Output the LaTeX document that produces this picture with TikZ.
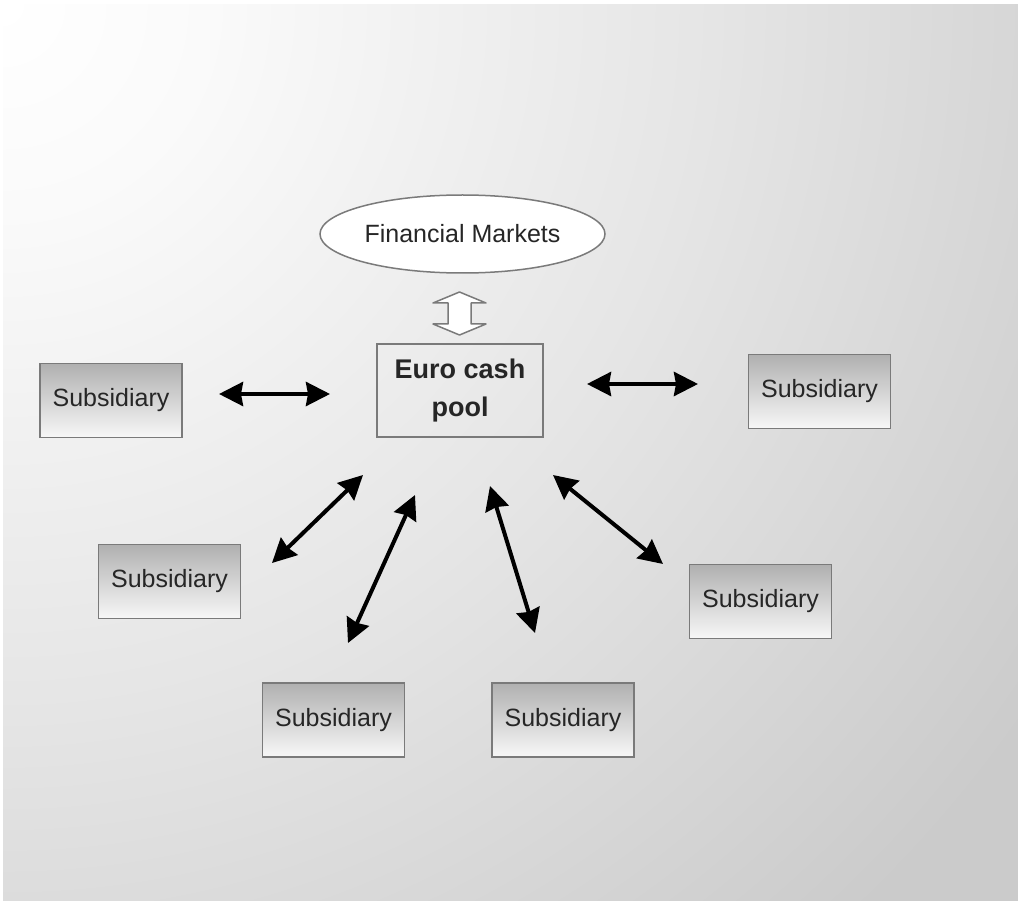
\documentclass[tikz,border=0pt]{standalone}
\usepackage{fontspec}
\setmainfont{Liberation Sans}
\usetikzlibrary{arrows.meta,shapes.geometric}
\definecolor{bgg}{HTML}{CBCBCB}
\definecolor{boxtop}{HTML}{B0B0B0}
\definecolor{edge}{HTML}{7A7A7A}
\definecolor{txt}{HTML}{262626}
\pgfdeclareradialshading{bgrad}{\pgfpoint{0bp}{0bp}}{color(0bp)=(white); color(4.2bp)=(white!98!black); color(14bp)=(white!90!black); color(25bp)=(bgg); color(50bp)=(bgg)}
\begin{document}
\begin{tikzpicture}[x=1pt,y=-1pt,
  sub/.style={draw=edge, line width=1.5pt, top color=boxtop, bottom color=white!97!black,
    minimum width=142pt, minimum height=74pt, inner sep=0pt,
    font=\fontsize{25}{30}\selectfont, text=txt},
  link/.style={line width=4pt, draw=black,
    {Stealth[length=24pt,width=24pt,inset=2pt]}-{Stealth[length=24pt,width=24pt,inset=2pt]}},
  blockarrow/.style={draw=edge, line width=1.5pt, fill=white, line join=round}]
\useasboundingbox (0,0) rectangle (1018,901);
\fill[white] (0,0) rectangle (1018,901);
\fill[bgg] (3,5) rectangle (1018,901);
\begin{scope}
  \clip (3,5) rectangle (1018,901);
  \shade[shading=bgrad] (3,5) circle[radius=1250];
\end{scope}

% nodes
\node[ellipse, draw=edge, fill=white, line width=1.5pt, minimum width=285pt, minimum height=78pt,
  inner sep=0pt, font=\fontsize{25}{30}\selectfont, text=txt] (fm) at (462.5,234) {Financial Markets};
\node[draw=edge, line width=2pt, minimum width=166pt, minimum height=93pt, inner sep=0pt,
  align=center, text=txt, font=\bfseries\fontsize{27}{38}\selectfont] (pool) at (460,390.5) {Euro cash\\pool};

\node[sub] (s1) at (111,400.5) {Subsidiary};
\node[sub] (s2) at (819.5,391.5) {Subsidiary};
\node[sub] (s3) at (169.5,581.5) {Subsidiary};
\node[sub] (s4) at (760.5,601.5) {Subsidiary};
\node[sub] (s5) at (333.5,720) {Subsidiary};
\node[sub] (s6) at (563,720) {Subsidiary};

% block double arrow between markets and pool
\draw[blockarrow] (459.5,292) -- (486,303) -- (471,303) -- (471,324) -- (486,324)
  -- (459.5,335) -- (433,324) -- (448,324) -- (448,303) -- (433,303) -- cycle;

% connector end points
\coordinate (a1) at (219,394);   \coordinate (b1) at (330,394);
\coordinate (a2) at (587,384);   \coordinate (b2) at (698,384);
\coordinate (a3) at (363,475);   \coordinate (b3) at (272,563);
\coordinate (a4) at (415,495);   \coordinate (b4) at (348,643);
\coordinate (a5) at (490,486);   \coordinate (b5) at (535,633);
\coordinate (a6) at (553,475);   \coordinate (b6) at (663,564);

\draw[link] (a1) -- (b1);
\draw[link] (a2) -- (b2);
\draw[link] (a3) -- (b3);
\draw[link] (a4) -- (b4);
\draw[link] (a5) -- (b5);
\draw[link] (a6) -- (b6);
\end{tikzpicture}
\end{document}
